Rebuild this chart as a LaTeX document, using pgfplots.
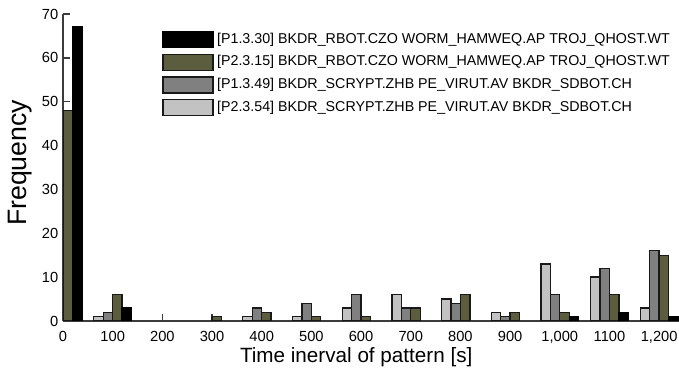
\documentclass[border=0pt]{standalone}
\usepackage{pgfplots}
\usepackage{pgfplotstable}
\pgfplotsset{compat=1.18}
\usepackage{fontspec}
\setmainfont{Liberation Sans}
\definecolor{olivebar}{RGB}{92,92,62}
\definecolor{dgraybar}{RGB}{128,128,128}
\definecolor{lgraybar}{RGB}{194,194,194}
\definecolor{edgec}{RGB}{25,25,25}
\definecolor{axisc}{RGB}{60,60,60}
\pgfplotstableread{
x    lg dg ol bk
0    0  0  48 67
100  1  2  6  3
200  0  0  0  0
300  0  0  1  0
400  1  3  2  0
500  1  4  1  0
600  3  6  1  0
700  6  3  3  0
800  5  4  6  0
900  2  1  2  0
1000 13 6  2  1
1100 10 12 6  2
1200 3  16 15 1
}\freqdata
\begin{document}
\begin{tikzpicture}
\useasboundingbox (-47.25pt,-39pt) rectangle (462pt,240.75pt);
\begin{axis}[
  at={(0,0)}, anchor=south west,
  scale only axis, width=462pt, height=230.25pt,
  xmin=0, xmax=1240, ymin=0, ymax=70,
  ybar=0pt, bar width=19,
  axis lines*=left,
  axis line style={axisc, line width=1pt},
  tick align=inside, major tick length=5pt,
  tick style={axisc, line width=1pt},
  xtick={0,100,...,1200},
  xticklabels={0,100,200,300,400,500,600,700,800,900,{1,000},1100,{1,200}},
  ytick={0,10,...,70},
  /pgf/number format/assume math mode=true,
  ticklabel style={font=\fontsize{11}{13}\selectfont},
  xticklabel style={yshift=-4pt},
  xlabel={Time inerval of pattern [s]},
  ylabel={Frequency},
  every axis x label/.style={at={([yshift=-27pt]rel axis cs:0.476,0)}, anchor=center, font=\fontsize{15.5}{18}\selectfont},
  every axis y label/.style={at={([xshift=-32pt]rel axis cs:0,0.515)}, anchor=center, rotate=90, font=\fontsize{20}{24}\selectfont},
  y filter/.expression={y==0 ? nan : y},
  unbounded coords=discard,
  reverse legend,
  legend image code/.code={\draw[#1, line width=1pt] (0pt,-6pt) rectangle (37.5pt,6pt);},
  legend style={at={(rel axis cs:0.161,0.945)}, anchor=north west, draw=none, fill=none,
    font=\fontsize{10.7}{12}\selectfont, inner sep=0pt, row sep=4pt,
    nodes={inner ysep=0pt, inner xsep=2.5pt, text height=8.5pt, text depth=3.5pt},
    cells={anchor=west}},
]
\addplot[fill=lgraybar, draw=edgec, line width=1pt] table[x=x, y=lg] {\freqdata};
\addplot[fill=dgraybar, draw=edgec, line width=1pt] table[x=x, y=dg] {\freqdata};
\addplot[fill=olivebar, draw=edgec, line width=1pt] table[x=x, y=ol] {\freqdata};
\addplot[fill=black, draw=black, line width=1pt] table[x=x, y=bk] {\freqdata};
\legend{\mbox{[}P2.3.54] BKDR\_SCRYPT.ZHB PE\_VIRUT.AV BKDR\_SDBOT.CH,
        \mbox{[}P1.3.49] BKDR\_SCRYPT.ZHB PE\_VIRUT.AV BKDR\_SDBOT.CH,
        \mbox{[}P2.3.15] BKDR\_RBOT.CZO WORM\_HAMWEQ.AP TROJ\_QHOST.WT,
        \mbox{[}P1.3.30] BKDR\_RBOT.CZO WORM\_HAMWEQ.AP TROJ\_QHOST.WT}
\end{axis}
\end{tikzpicture}
\end{document}
